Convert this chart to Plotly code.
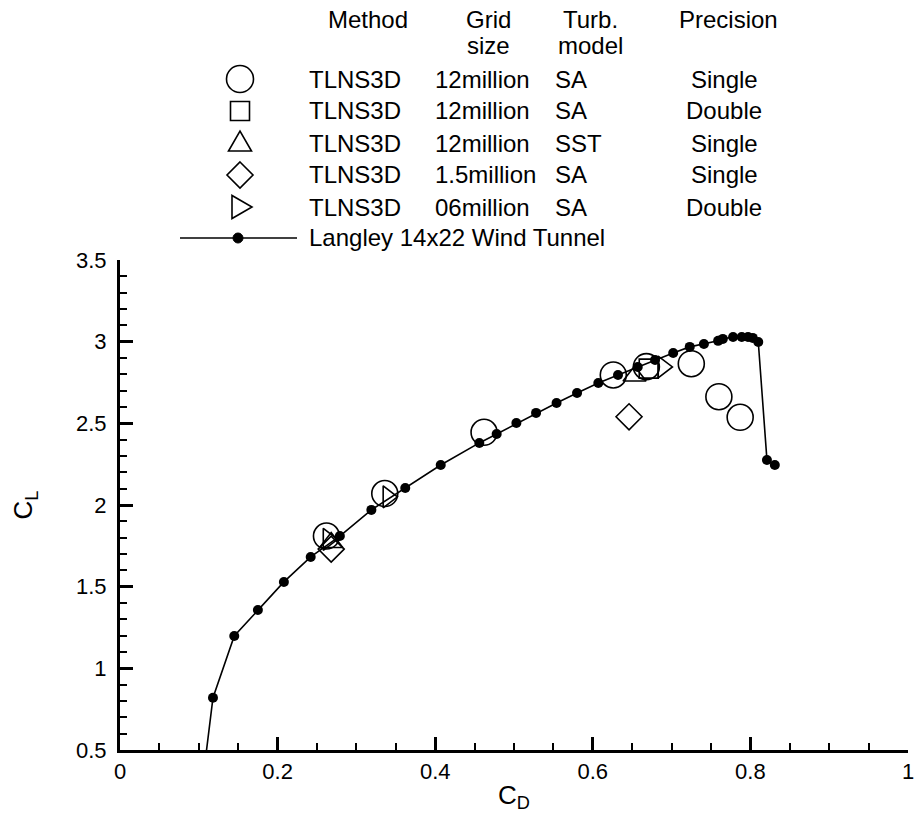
import plotly.graph_objects as go

# Langley 14x22 wind tunnel
wt_cd = [0.106, 0.118, 0.145, 0.175, 0.208, 0.242, 0.279, 0.319, 0.362, 0.407, 0.456, 0.478,
         0.503, 0.528, 0.554, 0.580, 0.607, 0.632, 0.657, 0.679, 0.702, 0.723, 0.741, 0.759,
         0.765, 0.778, 0.789, 0.797, 0.803, 0.810, 0.821, 0.831]
wt_cl = [0.35, 0.82, 1.198, 1.357, 1.529, 1.682, 1.81, 1.97, 2.104, 2.245, 2.38, 2.435,
         2.502, 2.564, 2.625, 2.686, 2.747, 2.796, 2.845, 2.888, 2.931, 2.968, 2.986, 3.005,
         3.017, 3.029, 3.029, 3.029, 3.023, 2.998, 2.276, 2.245]

# TLNS3D 12M SA single (circles)
c12sa_cd = [0.262, 0.336, 0.462, 0.626, 0.668, 0.725, 0.760, 0.787]
c12sa_cl = [1.81, 2.07, 2.445, 2.796, 2.847, 2.865, 2.663, 2.537]
# TLNS3D 12M SA double (squares)
c12sad_cd = [0.671]
c12sad_cl = [2.835]
# TLNS3D 12M SST single (triangle up)
c12sst_cd = [0.268, 0.653]
c12sst_cl = [1.77, 2.79]
# TLNS3D 1.5M SA single (diamond)
c15_cd = [0.268, 0.646]
c15_cl = [1.73, 2.54]
# TLNS3D 06M SA double (triangle right)
c06_cd = [0.264, 0.340, 0.689]
c06_cl = [1.79, 2.05, 2.845]

legend_method = ["TLNS3D", "TLNS3D", "TLNS3D", "TLNS3D", "TLNS3D"]
legend_grid = ["12million", "12million", "12million", "1.5million", "06million"]
legend_turb = ["SA", "SA", "SST", "SA", "SA"]
legend_prec = ["Single", "Double", "Single", "Single", "Double"]
legend_sym = ["circle", "square", "triangle-up", "diamond", "triangle-right"]
wt_label = "Langley 14x22 Wind Tunnel"

x_ticks = [0, 0.2, 0.4, 0.6, 0.8, 1]
x_ticktext = ["0", "0.2", "0.4", "0.6", "0.8", "1"]
y_ticks = [0.5, 1, 1.5, 2, 2.5, 3, 3.5]
y_ticktext = ["0.5", "1", "1.5", "2", "2.5", "3", "3.5"]

FONT = "Liberation Sans, Arial, Helvetica, sans-serif"
fig = go.Figure()

fig.add_trace(go.Scatter(x=wt_cd, y=wt_cl, mode="lines+markers",
                         line=dict(color="black", width=1.6),
                         marker=dict(color="black", size=10), showlegend=False))

mk = dict(color="black", width=1.6)
for xs, ys, sym, sz in ((c12sa_cd, c12sa_cl, "circle-open", 26),
                        (c12sad_cd, c12sad_cl, "square-open", 19),
                        (c12sst_cd, c12sst_cl, "triangle-up-open", 20),
                        (c15_cd, c15_cl, "diamond-open", 20),
                        (c06_cd, c06_cl, "triangle-right-open", 19)):
    fig.add_trace(go.Scatter(x=xs, y=ys, mode="markers",
                             marker=dict(symbol=sym, size=sz, line=mk, color="black"), showlegend=False))

# Legend table (drawn in the top margin)
L, R, T, B = 120, 6, 260, 63
W, H = 914, 813
pw, ph = W - L - R, H - T - B
def px(x): return (x - L) / pw
def py(y): return (H - B - y) / ph

def sym_shape(kind, cx, cy):
    base = dict(xref="paper", yref="paper", xsizemode="pixel", ysizemode="pixel",
                xanchor=px(cx), yanchor=py(cy), line=dict(color="black", width=1.6))
    if kind == "circle":
        return dict(type="circle", x0=-13.5, x1=13.5, y0=-13.5, y1=13.5, **base)
    if kind == "square":
        return dict(type="rect", x0=-9.5, x1=9.5, y0=-9.5, y1=9.5, **base)
    if kind == "triangle-up":
        return dict(type="path", path="M -11.5 -8 L 11.5 -8 L 0 12 Z", **base)
    if kind == "diamond":
        return dict(type="path", path="M 0 13 L 13 0 L 0 -13 L -13 0 Z", **base)
    return dict(type="path", path="M -8 11.5 L -8 -11.5 L 12 0 Z", **base)

row_y = [79, 111, 143, 175, 207]
tfont = dict(size=24, color="black", family=FONT)
for i, yy in enumerate(row_y):
    fig.add_shape(**sym_shape(legend_sym[i], 240, yy))
    for txt, x0, anc in ((legend_method[i], 307, "left"), (legend_grid[i], 433, "left"),
                         (legend_turb[i], 553, "left"), (legend_prec[i], 724, "center")):
        fig.add_annotation(x=px(x0), y=py(yy), xref="paper", yref="paper", text=txt,
                           showarrow=False, xanchor=anc, yanchor="middle", font=tfont)

fig.add_shape(type="line", xref="paper", yref="paper", x0=px(180), x1=px(297), y0=py(238), y1=py(238),
              line=dict(color="black", width=1.6))
fig.add_shape(type="circle", xref="paper", yref="paper", xsizemode="pixel", ysizemode="pixel",
              xanchor=px(238), yanchor=py(238), x0=-5, x1=5, y0=-5, y1=5,
              fillcolor="black", line=dict(color="black", width=1))
fig.add_annotation(x=px(307), y=py(238), xref="paper", yref="paper", text=wt_label,
                   showarrow=False, xanchor="left", yanchor="middle", font=tfont)

headers = [("Method", 368, 20), ("Grid", 488, 20), ("size", 488, 45), ("Turb.", 590, 20),
           ("model", 590, 45), ("Precision", 728, 20)]
for txt, cx, cy in headers:
    fig.add_annotation(x=px(cx), y=py(cy), xref="paper", yref="paper", text=txt, showarrow=False,
                       xanchor="center", yanchor="middle", font=tfont)

fig.update_layout(
    width=W, height=H, margin=dict(l=L, r=R, t=T, b=B, autoexpand=False),
    plot_bgcolor="white", paper_bgcolor="white",
    font=dict(family=FONT, color="black", size=22),
    xaxis=dict(range=[0, 1], tickvals=x_ticks, ticktext=x_ticktext, automargin=False,
               ticks="inside", ticklen=13, tickwidth=3, tickcolor="black",
               minor=dict(dtick=0.05, ticks="inside", ticklen=7, tickwidth=1.5, tickcolor="black"),
               showline=True, linewidth=3, linecolor="black", showgrid=False, zeroline=False,
               ticklabeloverflow="allow",
               tickfont=dict(size=22), title=dict(text="C<sub>D</sub>", font=dict(size=26), standoff=4)),
    yaxis=dict(range=[0.5, 3.5], tickvals=y_ticks, ticktext=y_ticktext, automargin=False,
               ticks="inside", ticklen=13, tickwidth=3, tickcolor="black",
               minor=dict(dtick=0.1, ticks="inside", ticklen=7, tickwidth=1.5, tickcolor="black"),
               showline=True, linewidth=3, linecolor="black", showgrid=False, zeroline=False,
               ticklabelstandoff=6, ticklabeloverflow="allow",
               tickfont=dict(size=22), title=dict(text="C<sub>L</sub>", font=dict(size=26), standoff=36)),
)

fig.write_html("out.html")
